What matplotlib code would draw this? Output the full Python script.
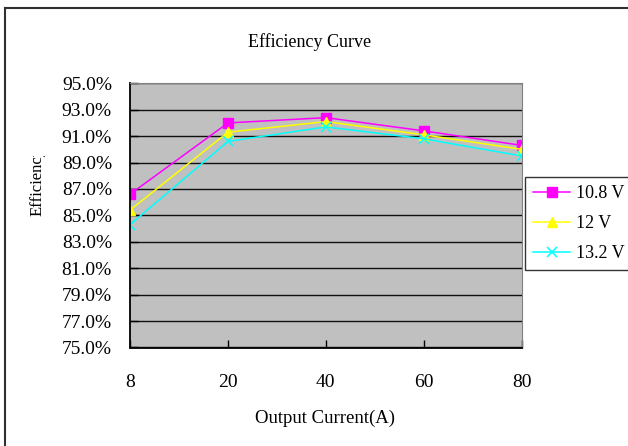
import matplotlib
matplotlib.use("Agg")
import matplotlib.pyplot as plt
from matplotlib.ticker import FuncFormatter
from matplotlib.transforms import Bbox

# data
currents = ["8", "20", "40", "60", "80"]
eff_108 = [86.6, 92.0, 92.4, 91.4, 90.3]
eff_12 = [85.4, 91.3, 92.1, 91.1, 90.0]
eff_132 = [84.3, 90.6, 91.7, 90.8, 89.5]
series_names = ["10.8 V", "12 V", "13.2 V"]
y_ticks = [75, 77, 79, 81, 83, 85, 87, 89, 91, 93, 95]

plt.rcParams["font.family"] = ["Liberation Serif", "DejaVu Serif"]

W, H = 628, 446
fig = plt.figure(figsize=(W / 100, H / 100), dpi=100)
# plot area in pixels: x 130..521.7, y 83.3..347.5
ax = fig.add_axes([130 / W, 1 - 347.5 / H, (521.7 - 130) / W, (347.5 - 83.3) / H])
ax.set_facecolor("#C0C0C0")

x = range(len(currents))
ax.plot(x, eff_108, color="#FF00FF", marker="s", markersize=6.5, lw=1.1, label=series_names[0])
ax.plot(x, eff_12, color="#FFFF00", marker="^", markersize=7.5, lw=1.1, label=series_names[1])
ax.plot(x, eff_132, color="#00FFFF", marker="x", markersize=7.5, mew=1.1, lw=1.1, label=series_names[2])

ax.set_xlim(0, len(currents) - 1)
ax.set_ylim(75, 95)
ax.set_xticks(list(x))
ax.set_xticklabels(currents)
ax.set_yticks(y_ticks)
ax.yaxis.set_major_formatter(FuncFormatter(lambda v, p: f"{v:.1f}%"))
ax.tick_params(direction="in", length=6, labelsize=14, width=1)
ax.tick_params(axis="x", pad=19)
ax.tick_params(axis="y", pad=13)
ax.grid(axis="y", color="#101010", lw=1)
ax.set_axisbelow(True)
for s in ["top", "right"]:
    ax.spines[s].set_color("#808080")
for s in ["left", "bottom"]:
    ax.spines[s].set_color("black")
    ax.spines[s].set_linewidth(1.3)

# title, axis labels
fig.text(310 / W, 1 - 42 / H, "Efficiency Curve", ha="center", va="center", fontsize=13)
fig.text(325 / W, 1 - 418 / H, "Output Current(A)", ha="center", va="center", fontsize=13.5)
ylab = fig.text(38 / W, 1 - 181 / H, "Efficiency", ha="center", va="center",
                rotation=90, fontsize=12)
ylab.set_clip_box(Bbox.from_extents(0, 0, 60, H - 156))
ylab.set_clip_on(True)

# outer frame (right and bottom edges fall off the image)
fig.add_artist(plt.Line2D([5 / W, 5 / W], [0, 1 - 8 / H], color="#303030", lw=1.5))
fig.add_artist(plt.Line2D([5 / W, 1], [1 - 8 / H, 1 - 8 / H], color="#303030", lw=1.5))

leg = fig.legend(loc="upper left", bbox_to_anchor=(525 / W, 1 - 177 / H), fontsize=13,
                 frameon=True, fancybox=False, edgecolor="black", borderpad=0.45,
                 handlelength=2.05, handletextpad=0.3, labelspacing=0.72, borderaxespad=0)
leg.get_frame().set_linewidth(1.0)

fig.savefig("out.png", dpi=100)
